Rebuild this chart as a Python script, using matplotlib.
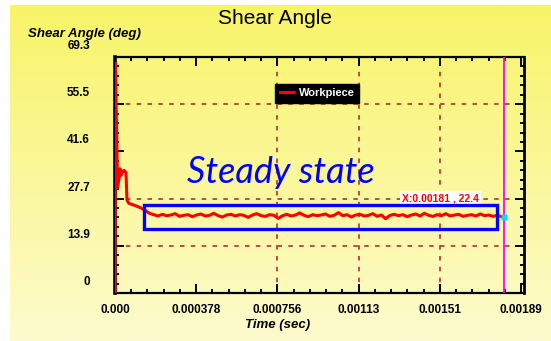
import numpy as np
import matplotlib
matplotlib.use("Agg")
import matplotlib.pyplot as plt
from matplotlib.patches import Rectangle
from matplotlib.ticker import AutoMinorLocator, FixedLocator
from matplotlib.transforms import ScaledTranslation

# start-up transient (time in s, angle in deg)
transient_t = [0.0, 2e-6, 1.2e-5, 1.9e-5, 2.3e-5, 2.8e-5, 3.3e-5, 4.2e-5,
               5.1e-5, 5.6e-5, 6.5e-5, 9.3e-5, 1.16e-4, 1.40e-4]
transient_deg = [0.0, 67.5, 31.0, 33.6, 36.5, 34.5, 35.4, 36.0,
                 35.4, 27.2, 26.3, 25.7, 25.1, 24.3]

# steady part, sampled every 20 us from 160 us
sample_start = 1.6e-4
sample_step = 2e-5
steady_deg = [
    23.4, 23.0, 22.6, 23.1, 22.7, 22.9, 23.3, 22.5, 22.8, 23.0,
    22.4, 22.9, 23.2, 22.6, 22.8, 23.4, 22.7, 22.3, 22.9, 23.1,
    22.6, 23.0, 22.8, 22.2, 22.9, 23.3, 22.7, 22.5, 23.0, 22.8,
    21.9, 22.7, 23.1, 22.6, 22.9, 23.5, 22.8, 22.4, 23.0, 22.7,
    22.9, 23.2, 22.5, 22.8, 23.6, 22.7, 23.0, 22.3, 22.9, 23.1,
    22.6, 22.8, 23.3, 22.5, 22.9, 21.8, 22.8, 23.1, 22.7, 23.0,
    22.4, 22.9, 23.2, 22.6, 23.4, 22.8, 22.5, 23.0, 22.7, 23.3,
    22.6, 22.9, 23.1, 22.5, 22.8, 23.0, 22.6, 23.2, 22.7, 22.9,
    22.5, 22.8, 22.4,
]

x_ticks = [0.0, 0.000378, 0.000756, 0.001134, 0.001512, 0.00189]
x_labels = ["0.000", "0.000378", "0.000756", "0.00113", "0.00151", "0.00189"]
y_ticks = [0.0, 13.86, 27.72, 41.58, 55.44, 69.3]
y_labels = ["0", "13.9", "27.7", "41.6", "55.5", "69.3"]
x_grid = [0.000756, 0.001134, 0.001512]
y_grid = [13.86, 27.72, 55.44]

cursor_t = 0.00181
cursor_deg = 22.4
steady_box = (1.35e-4, 18.7, 1.778e-3, 25.7)  # t0, y0, t1, y1

t_steady = sample_start + sample_step * np.arange(len(steady_deg))
t_all = np.concatenate([transient_t, t_steady])
deg_all = np.concatenate([transient_deg, steady_deg])

W, H = 551, 341
fig = plt.figure(figsize=(W / 100, H / 100), dpi=100)
fig.patch.set_facecolor("white")

# yellow gradient panel behind everything
bg = fig.add_axes([10 / W, 0, (W - 10) / W, (H - 5) / H], zorder=-10)
top = np.array([248, 244, 104]) / 255
bot = np.array([253, 251, 205]) / 255
grad = np.linspace(0, 1, 256)[:, None, None]
img = top * (1 - grad) + bot * grad
bg.imshow(np.repeat(img, 2, axis=1), aspect="auto", extent=[0, 1, 0, 1])
bg.axis("off")

ax = fig.add_axes([115 / W, (H - 293) / H, (524 - 115) / W, (293 - 57) / H])
ax.set_facecolor("none")

for g in x_grid:
    ax.axvline(g, color="#b3423a", lw=1.3, ls=(0, (2.5, 3.5)), zorder=1)
for g in y_grid:
    ax.axhline(g, color="#b3423a", lw=1.3, ls=(0, (2.5, 3.5)), zorder=1)

ax.plot(t_all, deg_all, color="#ff0000", lw=2.2, label="Workpiece", zorder=3)
ax.axvline(cursor_t, color="#ff00ff", lw=1.3, zorder=4)
ax.plot([cursor_t], [cursor_deg], marker="s", ms=4, color="#00e0f0",
        mec="none", zorder=5)

ax.set_xlim(0, 0.001904)
ax.set_ylim(0, 69.3)

ax.xaxis.set_major_locator(FixedLocator(x_ticks))
ax.yaxis.set_major_locator(FixedLocator(y_ticks))
ax.set_xticklabels(x_labels)
ax.set_yticklabels(y_labels)
ax.xaxis.set_minor_locator(AutoMinorLocator(5))
ax.yaxis.set_minor_locator(AutoMinorLocator(5))
ax.tick_params(which="both", direction="in", top=True, right=True,
               color="black", width=1.4)
ax.tick_params(which="major", length=6.5)
ax.tick_params(which="minor", length=3)
ax.tick_params(axis="x", pad=8)
ax.tick_params(axis="y", pad=18)
for lab in ax.get_xticklabels() + ax.get_yticklabels():
    lab.set_fontfamily("Liberation Sans")
    lab.set_fontweight("bold")
    lab.set_fontsize(8.5)
# y labels sit a little above their ticks
shift = ScaledTranslation(0, 9 / 72, fig.dpi_scale_trans)
for lab in ax.get_yticklabels():
    lab.set_transform(lab.get_transform() + shift)

for side, lw in (("left", 2.6), ("bottom", 1.6), ("right", 2.0), ("top", 1.6)):
    ax.spines[side].set_linewidth(lw)
    ax.spines[side].set_color("black")

leg = ax.legend(loc="center", bbox_to_anchor=(0.494, 0.847), frameon=True,
                fancybox=False, facecolor="black", edgecolor="black",
                framealpha=1, handlelength=1.2, handletextpad=0.5,
                borderpad=0.4, prop={"family": "Liberation Sans",
                                     "weight": "bold", "size": 8})
for txt in leg.get_texts():
    txt.set_color("white")

ax.text(1.336e-3, 26.3, "X:0.00181 , %.1f" % cursor_deg, color="#ff0000",
        fontsize=7.5, fontweight="bold", family="Liberation Sans",
        ha="left", va="bottom", zorder=4,
        bbox=dict(facecolor="white", edgecolor="none", pad=1.5))

x0, y0, x1, y1 = steady_box
ax.add_patch(Rectangle((x0, y0), x1 - x0, y1 - y0, fill=False,
                       edgecolor="#0000ff", lw=2.4, zorder=6))
ax.text(3.35e-4, 32.2, "Steady state", color="#0000ff", fontsize=26,
        family="Lato", style="italic", ha="left", va="baseline", zorder=6)

fig.text(275 / W, 1 - 19 / H, "Shear Angle", ha="center", va="center",
         fontsize=15, family="Liberation Sans")
fig.text(28 / W, 1 - 34 / H, "Shear Angle (deg)", ha="left", va="center",
         fontsize=9.5, family="Liberation Sans", weight="bold", style="italic")
fig.text(278 / W, 1 - 325 / H, "Time (sec)", ha="center", va="center",
         fontsize=9.5, family="Liberation Sans", weight="bold", style="italic")

fig.savefig("out.png", dpi=100)
